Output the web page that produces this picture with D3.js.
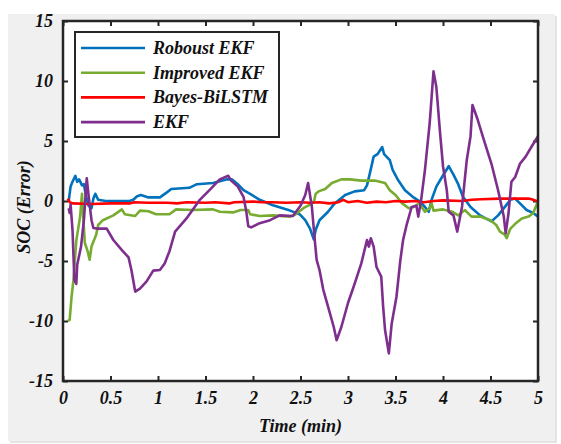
<!DOCTYPE html>
<html lang="en">
<head>
<meta charset="utf-8">
<title>SOC Error</title>
<style>
  body { margin: 0; background: #fff; }
  text { font-family: "Liberation Serif", "Times New Roman", serif; font-weight: bold; font-style: italic; fill: #111; }
  .line { fill: none; stroke-width: 2.6; stroke-linejoin: round; }
</style>
</head>
<body>
<div id="chart"></div>
<script src="https://d3js.org/d3.v7.min.js"></script>
<script>
// series values (time in min, SOC error)
var robTime = [0.06,0.08,0.1,0.13,0.15,0.17,0.2,0.22,0.24,0.27,0.3,0.32,0.34,0.37,0.45,0.55,0.7,0.74,0.78,0.82,0.9,1.02,1.09,1.14,1.33,1.41,1.58,1.72,1.78,1.84,1.9,1.97,2.07,2.21,2.39,2.49,2.55,2.6,2.64,2.66,2.7,2.79,2.86,2.97,3.07,3.17,3.2,3.23,3.27,3.31,3.36,3.38,3.44,3.47,3.53,3.6,3.69,3.75,3.81,3.85,3.88,3.93,3.99,4.06,4.11,4.16,4.21,4.29,4.39,4.51,4.58,4.62,4.67,4.71,4.76,4.81,4.88,4.95,5.0];
var robErr  = [0.0,1.2,1.6,2.1,1.6,1.8,1.3,1.4,0.5,-0.4,-0.6,0.2,0.6,0.1,0.0,0.0,0.0,0.1,0.4,0.5,0.3,0.3,0.7,1.0,1.1,1.4,1.5,1.8,1.8,1.4,0.9,0.6,0.1,-0.35,-0.8,-1.1,-1.6,-2.3,-3.2,-2.4,-1.6,-0.9,-0.2,0.5,0.8,0.9,1.3,2.3,3.7,3.9,4.5,3.9,3.4,2.6,1.7,0.9,0.3,0.0,-0.5,-0.9,0.1,1.2,2.0,2.9,2.2,1.4,0.35,-0.5,-1.2,-1.7,-1.2,-0.8,-0.3,0.1,0.2,-0.2,-0.75,-1.0,-1.3];

var impTime = [0.05,0.07,0.09,0.11,0.14,0.18,0.2,0.21,0.23,0.26,0.28,0.3,0.35,0.37,0.42,0.53,0.62,0.65,0.76,0.81,0.9,0.98,1.12,1.19,1.36,1.58,1.65,1.79,1.87,1.95,1.97,2.07,2.21,2.39,2.45,2.53,2.6,2.64,2.66,2.69,2.76,2.83,2.93,3.02,3.14,3.28,3.39,3.44,3.5,3.57,3.64,3.69,3.75,3.81,3.86,3.88,3.9,4.0,4.1,4.16,4.23,4.3,4.39,4.5,4.56,4.6,4.65,4.67,4.71,4.76,4.83,4.9,4.95,4.99,5.0];
var impErr  = [-10,-9.9,-8,-6.6,-3.3,-1.3,0.6,-1.0,-3.5,-4.2,-4.9,-3.8,-2.8,-2.0,-1.6,-1.2,-0.7,-1.1,-1.25,-0.8,-0.85,-1.1,-1.1,-0.7,-0.75,-0.7,-0.9,-0.95,-0.75,-0.75,-1.1,-1.25,-1.2,-1.3,-1.1,-0.6,-0.3,-0.1,0.6,0.8,1.0,1.5,1.8,1.8,1.7,1.7,1.5,0.9,0.5,-0.2,-0.6,-0.5,-0.2,-0.9,-0.6,-0.2,-0.8,-0.7,-0.9,-1.2,-0.75,-1.3,-1.3,-1.6,-2.0,-2.55,-2.8,-3.1,-2.3,-1.9,-1.45,-1.3,-1.0,-0.2,0.1];

var bayTime = [0.05,0.07,0.1,0.3,0.5,0.7,0.75,0.9,1.1,1.2,1.3,1.5,1.6,1.75,1.8,2.0,2.1,2.2,2.35,2.5,2.6,2.7,2.8,2.9,2.95,3.0,3.1,3.2,3.3,3.4,3.5,3.6,3.7,3.8,3.9,4.0,4.2,4.3,4.4,4.6,4.8,4.9,4.95,5.0];
var bayErr  = [0.2,-0.1,-0.2,-0.25,-0.2,-0.2,-0.1,-0.15,-0.15,-0.2,-0.1,-0.15,-0.1,-0.2,-0.1,-0.05,-0.1,-0.1,-0.15,-0.1,-0.15,-0.1,-0.2,-0.1,0.1,-0.1,0.0,-0.15,-0.05,-0.1,0.0,-0.05,0.0,-0.1,0.0,0.05,0.0,0.1,0.15,0.2,0.2,0.2,0.1,-0.05];

var ekfTime = [0.06,0.07,0.08,0.1,0.12,0.14,0.15,0.19,0.22,0.25,0.27,0.3,0.32,0.35,0.46,0.53,0.62,0.69,0.72,0.76,0.81,0.88,0.95,1.02,1.07,1.12,1.18,1.23,1.3,1.44,1.56,1.65,1.74,1.77,1.84,1.9,1.93,1.95,1.98,2.07,2.18,2.28,2.42,2.5,2.55,2.58,2.62,2.65,2.67,2.7,2.74,2.79,2.85,2.88,2.93,3.0,3.07,3.14,3.2,3.22,3.24,3.27,3.3,3.35,3.37,3.39,3.43,3.46,3.51,3.55,3.58,3.62,3.67,3.72,3.74,3.77,3.81,3.86,3.9,3.93,3.97,4.0,4.04,4.06,4.11,4.15,4.2,4.25,4.29,4.31,4.36,4.43,4.51,4.58,4.64,4.66,4.69,4.72,4.76,4.81,4.87,4.93,5.0];
var ekfErr  = [-0.6,-1.0,-0.3,-2.4,-6.6,-6.9,-5.3,-3.8,-1.6,1.9,0.4,-1.6,-2.25,-2.3,-2.3,-3.25,-4.1,-4.7,-5.75,-7.55,-7.3,-6.7,-5.8,-5.75,-5.2,-4.2,-2.55,-2.1,-1.45,0.1,1.05,1.8,2.1,1.7,1.2,0.35,-0.9,-2.1,-2.2,-1.85,-1.6,-1.2,-1.25,-0.4,0.5,1.5,-0.5,-3.25,-4.9,-5.75,-7.4,-8.8,-10.5,-11.6,-10.5,-8.5,-6.9,-5.2,-3.25,-3.8,-3.1,-3.8,-5.5,-6.3,-8.8,-10.75,-12.7,-10.2,-8.0,-5.0,-3.25,-1.9,-0.5,-0.4,-1.3,0.1,2.6,6.5,10.8,9.5,5.6,2.9,0.9,-0.9,-1.2,-2.55,-0.5,3.4,5.4,8.0,6.9,5.1,3.1,0.9,-1.3,-2.7,-1.0,1.6,2.0,3.1,3.7,4.5,5.4];

var seriesNames = ["Roboust EKF", "Improved EKF", "Bayes-BiLSTM", "EKF"];
var seriesColors = ["#0072BD", "#77AC30", "#FF0000", "#7E2F8E"];
var xTicks = [0, 0.5, 1, 1.5, 2, 2.5, 3, 3.5, 4, 4.5, 5];
var yTicks = [-15, -10, -5, 0, 5, 10, 15];

var series = [
    {name: seriesNames[0], color: seriesColors[0], t: robTime, v: robErr},
    {name: seriesNames[1], color: seriesColors[1], t: impTime, v: impErr},
    {name: seriesNames[2], color: seriesColors[2], t: bayTime, v: bayErr},
    {name: seriesNames[3], color: seriesColors[3], t: ekfTime, v: ekfErr}
];

var W = 561, H = 444;
var margin = {left: 63, right: 23, top: 21, bottom: 63};
var width = W - margin.left - margin.right,
    height = H - margin.top - margin.bottom;

var root = d3.select("#chart").append("svg")
    .attr("width", W)
    .attr("height", H);

// grey figure panel
root.append("rect")
    .attr("x", 10).attr("y", 16).attr("width", 547).attr("height", 427)
    .attr("fill", "#e4e4e4");
root.append("rect")
    .attr("x", 8).attr("y", 14).attr("width", 547).attr("height", 427)
    .attr("fill", "#f0f0f0");

var svg = root.append("g")
    .attr("transform", "translate(" + margin.left + "," + margin.top + ")");

svg.append("rect")
    .attr("width", width).attr("height", height)
    .attr("fill", "#fff");

var xScale = d3.scaleLinear().domain([0, 5]).range([0, width]);
var yScale = d3.scaleLinear().domain([-15, 15]).range([height, 0]);

// bottom / left axes with inward ticks
var xAxis = svg.append("g")
    .attr("transform", "translate(0," + height + ")")
    .call(d3.axisBottom(xScale).tickValues(xTicks).tickSizeInner(-5).tickSizeOuter(0).tickPadding(10)
        .tickFormat(function(d) { return String(d); }));
var yAxis = svg.append("g")
    .call(d3.axisLeft(yScale).tickValues(yTicks).tickSizeInner(-5).tickSizeOuter(0).tickPadding(10)
        .tickFormat(function(d) { return String(d); }));
// mirrored ticks top / right
svg.append("g")
    .call(d3.axisTop(xScale).tickValues(xTicks).tickSizeInner(-5).tickSizeOuter(0).tickFormat(""));
svg.append("g")
    .attr("transform", "translate(" + width + ",0)")
    .call(d3.axisRight(yScale).tickValues(yTicks).tickSizeInner(-5).tickSizeOuter(0).tickFormat(""));

svg.selectAll(".domain").remove();
svg.selectAll(".tick line").attr("stroke", "#262626").attr("stroke-width", 2);
svg.selectAll(".tick text")
    .attr("fill", "#111")
    .style("font-size", "18px")
    .style("font-family", "'Liberation Serif', serif")
    .style("font-weight", "bold")
    .style("font-style", "italic");

var line = d3.line()
    .x(function(d) { return xScale(d[0]); })
    .y(function(d) { return yScale(d[1]); });

series.forEach(function(s) {
    var pts = s.t.map(function(t, i) { return [t, s.v[i]]; });
    svg.append("path")
        .datum(pts)
        .attr("class", "line")
        .attr("stroke", s.color)
        .attr("d", line);
});

// frame
svg.append("rect")
    .attr("width", width).attr("height", height)
    .attr("fill", "none")
    .attr("stroke", "#262626")
    .attr("stroke-width", 2.5);

// legend
var lg = svg.append("g").attr("transform", "translate(12,11)");
lg.append("rect")
    .attr("width", 204).attr("height", 105)
    .attr("fill", "#fff")
    .attr("stroke", "#262626")
    .attr("stroke-width", 2);
series.forEach(function(s, i) {
    var yy = 16 + i * 24.7;
    lg.append("line")
        .attr("x1", 6).attr("x2", 70)
        .attr("y1", yy).attr("y2", yy)
        .attr("stroke", s.color).attr("stroke-width", 2.6);
    lg.append("text")
        .attr("x", 78).attr("y", yy + 6)
        .style("font-size", "18px")
        .text(s.name);
});

// axis titles
root.append("text")
    .attr("x", margin.left + width / 2).attr("y", 432)
    .attr("text-anchor", "middle")
    .style("font-size", "18px")
    .text("Time (min)");
root.append("text")
    .attr("transform", "translate(30,207) rotate(-90)")
    .attr("text-anchor", "middle")
    .style("font-size", "18px")
    .text("SOC (Error)");
</script>
</body>
</html>
